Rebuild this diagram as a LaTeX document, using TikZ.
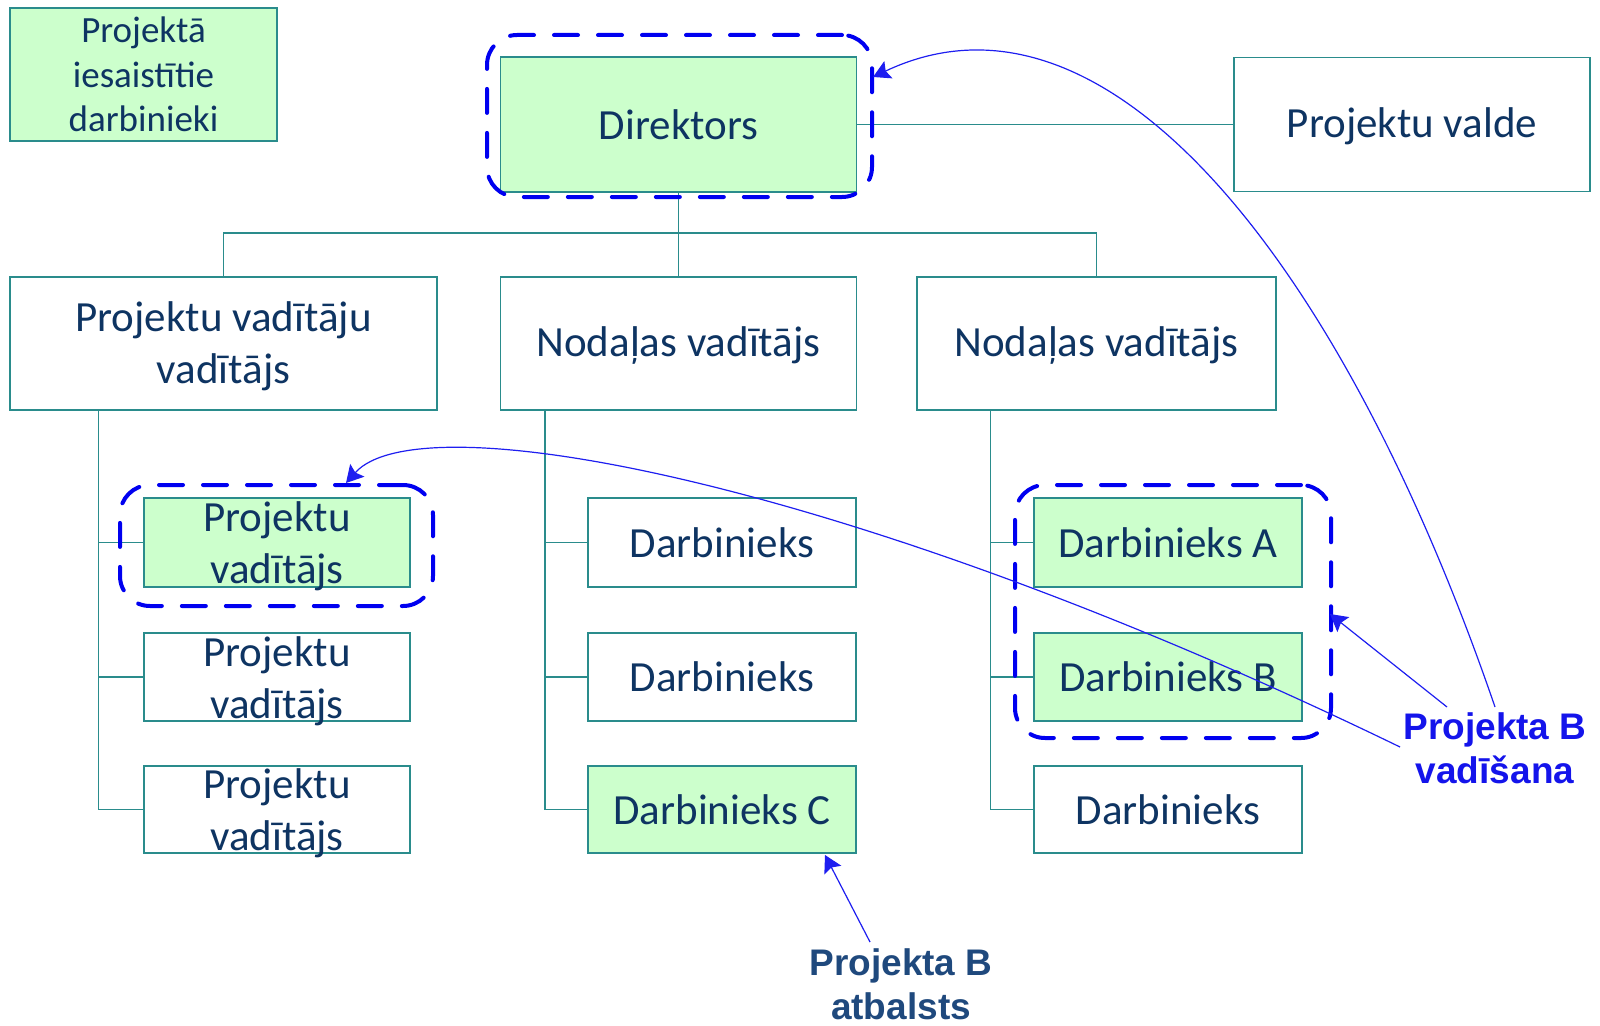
\documentclass[tikz,border=0pt]{standalone}
\usepackage{fontspec}
\setmainfont{Carlito}
\newfontfamily\labfont{Liberation Sans}
\usetikzlibrary{arrows.meta,fit}
\definecolor{tealc}{RGB}{42,140,140}
\definecolor{lgreen}{RGB}{204,255,204}
\definecolor{navyt}{RGB}{14,52,98}
\definecolor{bblue}{RGB}{0,0,240}
\definecolor{ablue}{RGB}{30,30,240}
\definecolor{vblue}{RGB}{20,20,235}
\definecolor{dblue}{RGB}{31,73,125}
\begin{document}
\begin{tikzpicture}[x=1pt,y=-1pt,
  orgbox/.style={draw=tealc, line width=1.5pt, inner sep=0pt, text=navyt,
    font=\fontsize{43}{52}\selectfont, align=center},
  greenbox/.style={orgbox, fill=lgreen},
  wire/.style={draw=tealc, line width=1.5pt},
  frame/.style={draw=bblue, line width=4pt, dash pattern=on 24pt off 20pt,
    line cap=round, rounded corners=30pt, inner sep=0pt},
  arr/.style={draw=ablue, line width=1.2pt, -{Stealth[length=17pt,width=19pt,inset=3pt]}},
  lab/.style={font=\labfont\bfseries\fontsize{37}{44}\selectfont, align=center, inner sep=0pt}
]
\useasboundingbox (0,0) rectangle (1600,1025);

% legend
\node[greenbox, minimum width=267pt, minimum height=133pt,
  font=\fontsize{37}{44.5}\selectfont] (leg) at (143.5,74.5) {Projektā\\iesaistītie\\darbinieki};

% top level
\node[greenbox, minimum width=356pt, minimum height=135pt] (dir) at (678.5,124.5) {Direktors};
\node[orgbox, minimum width=356pt, minimum height=134pt, text depth=3pt] (pv) at (1412,124.5) {Projektu valde};

% second level
\node[orgbox, minimum width=427pt, minimum height=133pt] (pvv) at (223.5,343.5)
  {\parbox[c][133pt][c]{427pt}{\centering\vspace*{5pt}Projektu vadītāju\\vadītājs}};
\node[orgbox, minimum width=356pt, minimum height=133pt, text depth=3pt] (nv1) at (678.5,343.5) {Nodaļas vadītājs};
\node[orgbox, minimum width=359pt, minimum height=133pt, text depth=3pt] (nv2) at (1096.5,343.5) {Nodaļas vadītājs};

% third level, left column
\node[greenbox, minimum width=266pt, minimum height=89pt] (p1) at (277,542.5)
  {\parbox[c][89pt][c]{266pt}{\centering\vspace*{8pt}Projektu\\vadītājs}};
\node[orgbox, minimum width=266pt, minimum height=88pt] (p2) at (277,677)
  {\parbox[c][88pt][c]{266pt}{\centering\vspace*{8pt}Projektu\\vadītājs}};
\node[orgbox, minimum width=266pt, minimum height=87pt] (p3) at (277,809.5)
  {\parbox[c][87pt][c]{266pt}{\centering\vspace*{8pt}Projektu\\vadītājs}};

% middle column
\node[orgbox, minimum width=268pt, minimum height=89pt] (d1) at (722,542.5) {Darbinieks};
\node[orgbox, minimum width=268pt, minimum height=88pt] (d2) at (722,677) {Darbinieks};
\node[greenbox, minimum width=268pt, minimum height=87pt] (dc) at (722,809.5) {Darbinieks C};

% right column
\node[greenbox, minimum width=268pt, minimum height=89pt] (da) at (1168,542.5) {Darbinieks A};
\node[greenbox, minimum width=268pt, minimum height=88pt] (db) at (1168,677) {Darbinieks B};
\node[orgbox, minimum width=268pt, minimum height=87pt] (d3) at (1168,809.5) {Darbinieks};

% tree connectors
\draw[wire] (dir.east) -- (pv.west);
\draw[wire] (dir.south) -- (nv1.north);
\draw[wire] (dir.south) -- ++(0,40) -| (pvv.north);
\draw[wire] (dir.south) -- ++(0,40) -| (nv2.north);

\draw[wire] ([xshift=89pt]pvv.south west) |- (p3.west);
\draw[wire] ([xshift=89pt]pvv.south west) |- (p1.west);
\draw[wire] ([xshift=89pt]pvv.south west) |- (p2.west);

\draw[wire] ([xshift=45pt]nv1.south west) |- (dc.west);
\draw[wire] ([xshift=45pt]nv1.south west) |- (d1.west);
\draw[wire] ([xshift=45pt]nv1.south west) |- (d2.west);

\draw[wire] ([xshift=74pt]nv2.south west) |- (d3.west);
\draw[wire] ([xshift=74pt]nv2.south west) |- (da.west);
\draw[wire] ([xshift=74pt]nv2.south west) |- (db.west);

% dashed frames
\coordinate (f1a) at (487,35);  \coordinate (f1b) at (872,197);
\coordinate (f2a) at (120,485); \coordinate (f2b) at (433,606);
\coordinate (f3a) at (1015,485); \coordinate (f3b) at (1331,738);
\node[frame, fit=(f1a)(f1b)] (fr1) {};
\node[frame, fit=(f2a)(f2b)] (fr2) {};
\node[frame, fit=(f3a)(f3b)] (fr3) {};

% labels
\node[lab, text=vblue] (vad) at (1495,748) {Projekta B\\vadīšana};
\node[lab, text=dblue] (atb) at (901,984) {Projekta B\\atbalsts};

% arrow end points
\coordinate (vTop) at (1495,707);
\coordinate (vMid) at (1447,707);
\coordinate (vLeft) at (1400,747);
\coordinate (aTop) at (870,942);
\coordinate (tDir) at (873,77);
\coordinate (tPv) at (346,483);
\coordinate (tAB) at (1330,614);
\coordinate (tC) at (825,855);

% arrows
\draw[arr] (vTop) .. controls (1345,270) and (1110,-35) .. (tDir);
\draw[arr] (vMid) -- (tAB);
\draw[arr] (vLeft) .. controls (850,480) and (420,400) .. (tPv);
\draw[arr] (aTop) -- (tC);
\end{tikzpicture}
\end{document}
